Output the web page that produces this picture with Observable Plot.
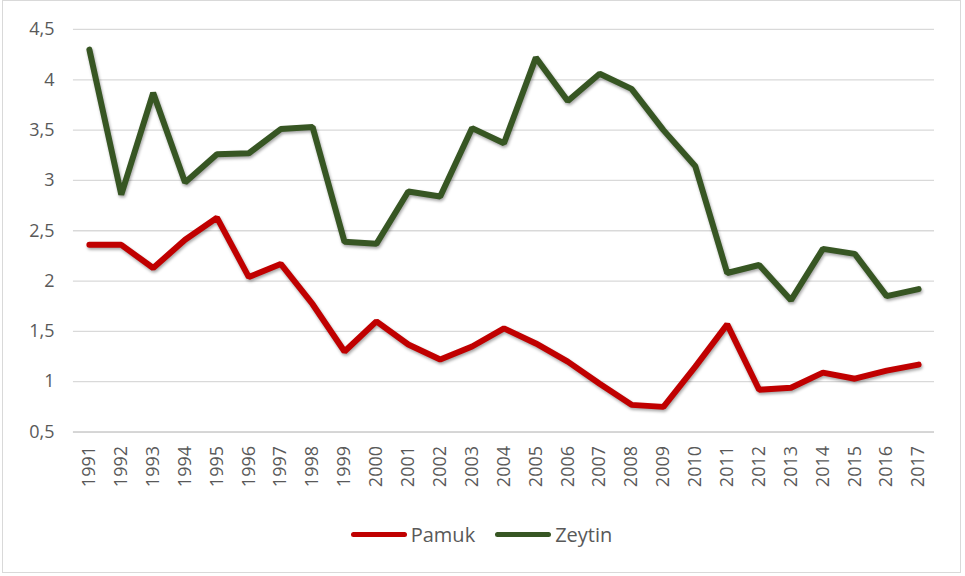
<!DOCTYPE html>
<html>
<head>
<meta charset="utf-8">
<script src="https://cdn.jsdelivr.net/npm/d3@7"></script>
<script src="https://cdn.jsdelivr.net/npm/@observablehq/plot@0.6"></script>
<style>
  html, body { margin: 0; padding: 0; background: #fff; }
  #frame {
    position: absolute; left: 2px; top: 0px; width: 957px; height: 571px;
    border: 1px solid #d9d9d9; box-sizing: content-box; background: #fff;
    font-family: "Open Sans", "Liberation Sans", sans-serif;
  }
  #chart { position: absolute; left: 0; top: 0; }
  #legend {
    position: absolute; left: 0; top: 515px; width: 957px; text-align: center;
    font-size: 20px; color: #595959;
  }
  #legend .item { display: inline-flex; align-items: center; margin: 0 10px; }
  #legend .sw { display: inline-block; width: 56px; height: 5px; border-radius: 3px; margin-right: 4px; }
  .ln path { filter: drop-shadow(1px 2px 1.5px rgba(0,0,0,0.35)); }
</style>
</head>
<body>
<div id="frame">
  <div id="chart"></div>
  <div id="legend"></div>
</div>
<script>
const years = ["1991","1992","1993","1994","1995","1996","1997","1998","1999","2000","2001","2002","2003","2004","2005","2006","2007","2008","2009","2010","2011","2012","2013","2014","2015","2016","2017"];
const pamuk = [2.36,2.36,2.13,2.41,2.63,2.04,2.17,1.77,1.30,1.60,1.37,1.22,1.35,1.53,1.38,1.20,0.98,0.77,0.75,1.15,1.57,0.92,0.94,1.09,1.03,1.11,1.17];
const zeytin = [4.30,2.86,3.87,2.98,3.26,3.27,3.51,3.53,2.39,2.37,2.89,2.84,3.52,3.37,4.22,3.79,4.06,3.91,3.50,3.14,2.08,2.16,1.81,2.32,2.27,1.85,1.92];
const seriesNames = ["Pamuk", "Zeytin"];
const seriesColors = ["#c00000", "#375623"];
const yTicks = [0.5,1,1.5,2,2.5,3,3.5,4,4.5];

const yearNums = years.map(Number);
const data = [];
years.forEach((y, i) => {
  data.push({year: yearNums[i], value: pamuk[i], series: seriesNames[0]});
  data.push({year: yearNums[i], value: zeytin[i], series: seriesNames[1]});
});

const chart = Plot.plot({
  width: 958,
  height: 515,
  marginLeft: 70,
  marginRight: 26,
  marginTop: 28,
  marginBottom: 84,
  style: {fontFamily: "'Open Sans', 'Liberation Sans', sans-serif", color: "#595959", background: "transparent"},
  x: {type: "linear", domain: [yearNums[0] - 0.5, yearNums[yearNums.length - 1] + 0.5], label: null},
  y: {domain: [0.5, 4.5], label: null},
  color: {domain: seriesNames, range: seriesColors},
  marks: [
    Plot.gridY(yTicks, {stroke: "#d9d9d9", strokeOpacity: 1, strokeWidth: 1.3}),
    Plot.ruleY([0.5], {stroke: "#d0d0d0", strokeWidth: 1.5}),
    Plot.axisY(yTicks, {tickSize: 0, tickPadding: 19, fontSize: 18, fill: "#595959",
      tickFormat: d => String(d).replace(".", ",")}),
    Plot.axisX(yearNums, {tickSize: 0, tickPadding: 14, tickRotate: -90, fontSize: 18, fill: "#595959",
      label: null, tickFormat: d => String(d)}),
    Plot.line(data, {x: "year", y: "value", z: "series", stroke: "series", strokeWidth: 6,
      strokeLinejoin: "miter", strokeLinecap: "round", className: "ln"})
  ]
});
document.getElementById("chart").appendChild(chart);

const legend = document.getElementById("legend");
seriesNames.forEach((n, i) => {
  const item = document.createElement("span");
  item.className = "item";
  const sw = document.createElement("span");
  sw.className = "sw";
  sw.style.background = seriesColors[i];
  item.appendChild(sw);
  item.appendChild(document.createTextNode(n));
  legend.appendChild(item);
});
</script>
</body>
</html>
